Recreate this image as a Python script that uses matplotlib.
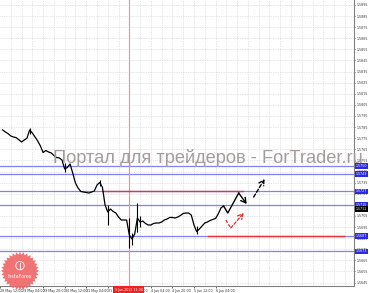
import numpy as np
import matplotlib
matplotlib.use("Agg")
import matplotlib.pyplot as plt
from matplotlib.patches import Polygon, Circle

# ---------------- data ----------------
# trading-hour index of each 2-hour bar (0 = 28 May 12:00)
bar_hours = np.arange(2, 168, 2)
closes = [1.57824, 1.57806, 1.57791, 1.57770, 1.57761, 1.57755, 1.57736, 1.57716, 1.57734, 1.57750,
          1.57824, 1.57797, 1.57761, 1.57725, 1.57680, 1.57621, 1.57639, 1.57626, 1.57617, 1.57594,
          1.57576, 1.57572, 1.57554, 1.57473, 1.57486, 1.57518, 1.57436, 1.57346, 1.57301, 1.57270,
          1.57265, 1.57261, 1.57256, 1.57265, 1.57274, 1.57328, 1.57351, 1.57310, 1.57148, 1.57085,
          1.57112, 1.57090, 1.57076, 1.57040, 1.57013, 1.57013, 1.57013, 1.56878, 1.56842, 1.56887,
          1.57031, 1.56995, 1.57004, 1.56982, 1.56968, 1.56968, 1.56982, 1.56986, 1.56986, 1.56995,
          1.57013, 1.57022, 1.57036, 1.57036, 1.57031, 1.57040, 1.57054, 1.57072, 1.57076, 1.57076,
          1.57058, 1.56968, 1.56909, 1.56932, 1.56959, 1.56986, 1.56995, 1.57009, 1.57018, 1.57027,
          1.57067, 1.57121, 1.57139]

spike_hours = [22, 48, 74, 80, 96, 98, 102, 104, 146]
spike_lows = [1.57790, 1.57445, 1.57320, 1.56968, 1.56761, 1.56788, 1.56905, 1.56950, 1.56890]
spike_highs = [1.57842, 1.57530, 1.57373, 1.57148, 1.57031, 1.56900, 1.57166, 1.57050, 1.56960]

blue_levels = [1.5750, 1.5743, 1.5727, 1.5715, 1.5687, 1.5673]
red_levels = [1.5727, 1.5687]
red_starts = [75.5, 154.4]
red_ends = [180.2, 255.4]
current_price = 1.5711
vline_hour = 95.4

zig_hours = [166, 169.1, 177.2, 183.1]
zig_prices = [1.57139, 1.57076, 1.57256, 1.57157]
dash_black_hours = [188.3, 196.4]
dash_black_prices = [1.57220, 1.57382]
dash_red_hours = [167.7, 171.3, 180.9]
dash_red_prices = [1.57013, 1.56941, 1.57076]

price_ticks = [1.5895 - 0.0010 * k for k in range(26)]
time_ticks = [0, 16, 32, 48, 64, 80, 96, 112, 128, 144, 160]
time_labels = ["28 May 12:00", "29 May 04:00", "29 May 20:00", "30 May 12:00", "31 May 04:00",
               "31 May 20:00", "3 Jun 12:00", "4 Jun 04:00", "4 Jun 20:00", "5 Jun 12:00", "6 Jun 04:00"]
vline_label = "3 Jun 2013 11:00"
watermark = "Портал для трейдеров - ForTrader.ru"

# ---------------- figure ----------------
W, H = 369, 293
fig = plt.figure(figsize=(W / 100, H / 100), dpi=100)
fig.patch.set_facecolor("white")
ax = fig.add_axes([0, 7 / H, 354 / W, 286 / H])
ax.set_facecolor("white")
ax.set_xlim(1.77, 262.8)
ax.set_ylim(1.564185, 1.589950)

# grid
for h in range(8, 264, 8):
    ax.axvline(h, color="#cdcdcd", lw=0.5, ls=(0, (1, 1.5)), zorder=0)
for p in price_ticks:
    ax.axhline(p, color="#cdcdcd", lw=0.5, ls=(0, (1, 1.5)), zorder=0)

# levels
for p in blue_levels:
    ax.axhline(p, color="#8080f0", lw=0.9, zorder=1)
for p, a, b in zip(red_levels, red_starts, red_ends):
    ax.plot([a, b], [p, p], color="#e53535", lw=1.0, zorder=2)
ax.axvline(vline_hour, color="#f08c8c", lw=0.8, zorder=1)

# price
ax.vlines(spike_hours, spike_lows, spike_highs, color="black", lw=0.8, zorder=3)
ax.plot(bar_hours, closes, color="black", lw=0.9, zorder=3)

# hand-drawn arrows
ax.plot(zig_hours[:-1], zig_prices[:-1], color="black", lw=1.0, zorder=4)
ax.annotate("", xy=(zig_hours[-1], zig_prices[-1]), xytext=(zig_hours[-2], zig_prices[-2]),
            arrowprops=dict(arrowstyle="->,head_length=0.35,head_width=0.2", color="black", lw=1.0,
                            shrinkA=0, shrinkB=0), zorder=4)
ax.annotate("", xy=(dash_black_hours[1], dash_black_prices[1]), xytext=(dash_black_hours[0], dash_black_prices[0]),
            arrowprops=dict(arrowstyle="->,head_length=0.35,head_width=0.2", color="black", lw=1.0,
                            ls=(0, (2.5, 1.5)), shrinkA=0, shrinkB=0), zorder=4)
ax.plot(dash_red_hours[:-1], dash_red_prices[:-1], color="#e52a2a", lw=0.9, ls=(0, (2.5, 1.5)), zorder=4)
ax.annotate("", xy=(dash_red_hours[-1], dash_red_prices[-1]), xytext=(dash_red_hours[-2], dash_red_prices[-2]),
            arrowprops=dict(arrowstyle="->,head_length=0.35,head_width=0.2", color="#e52a2a", lw=0.9,
                            ls=(0, (2.5, 1.5)), shrinkA=0, shrinkB=0), zorder=4)

# axes styling
for s in ["left", "top"]:
    ax.spines[s].set_visible(False)
for s in ["right", "bottom"]:
    ax.spines[s].set_color("#808080")
    ax.spines[s].set_linewidth(0.8)
ax.yaxis.tick_right()
ax.set_yticks(price_ticks)
ax.set_yticklabels([f"{p:.4f}" for p in price_ticks])
ax.tick_params(axis="y", length=1.0, width=0.5, pad=0.7, labelsize=2.3, colors="#333333")
ax.set_xticks(time_ticks)
ax.set_xticklabels(time_labels, ha="left")
ax.tick_params(axis="x", length=1.5, width=0.5, pad=1.0, labelsize=2.3, colors="#333333")

# right-axis labels for levels
for p in blue_levels:
    ax.text(1.005, p, f"{p:.4f}", transform=ax.get_yaxis_transform(), fontsize=2.3, color="white",
            va="center", ha="left", zorder=6,
            bbox=dict(boxstyle="square,pad=0.25", fc="#2a2ae6", ec="none"), clip_on=False)
ax.text(1.005, current_price, f"{current_price:.4f}", transform=ax.get_yaxis_transform(), fontsize=2.3,
        color="white", va="center", ha="left", zorder=6,
        bbox=dict(boxstyle="square,pad=0.25", fc="black", ec="none"), clip_on=False)
# red date box on time axis
ax.text(vline_hour, -0.007, vline_label, transform=ax.get_xaxis_transform(), fontsize=2.3, color="white",
        va="top", ha="center", zorder=6, clip_on=False,
        bbox=dict(boxstyle="square,pad=0.5", fc="#ee2222", ec="none"))

# watermark
t = fig.text(53 / W, (H - 163) / H, watermark, fontsize=13, color="#a69c9c", family="Liberation Sans",
             va="baseline", ha="left", zorder=10)
fig.canvas.draw()
bb = t.get_window_extent()
t.set_fontsize(13 * 308 / bb.width)

# InstaForex logo
lax = fig.add_axes([0, 2 / H, 40 / W, 40 / H])
lax.set_xlim(-1.05, 1.05)
lax.set_ylim(-1.05, 1.05)
lax.axis("off")
lax.patch.set_alpha(0)
ang = np.linspace(0, 2 * np.pi, 64, endpoint=False)
rad = np.where(np.arange(64) % 2 == 0, 1.0, 0.86)
lax.add_patch(Polygon(np.c_[rad * np.cos(ang), rad * np.sin(ang)], closed=True, fc="#f06464", ec="none", alpha=0.9))
lax.add_patch(Circle((0, 0.28), 0.22, fc="none", ec="white", lw=0.6))
lax.plot([0, 0], [0.12, 0.42], color="white", lw=0.6)
lax.text(0, -0.28, "InstaForex", color="white", fontsize=3.4, ha="center", va="center")

fig.savefig("out.png", dpi=100)
